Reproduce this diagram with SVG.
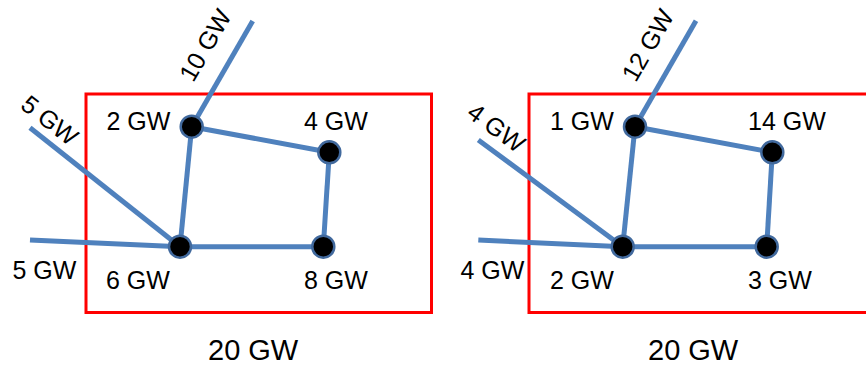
<svg xmlns="http://www.w3.org/2000/svg" width="866" height="365" viewBox="0 0 866 365">
<style>
.box{fill:none;stroke:#FF0000;stroke-width:3}
.ln{stroke:#4F81BD;stroke-width:5;fill:none}
.nd{fill:#000;stroke:#41699D;stroke-width:2.5}
text{font-family:"Liberation Sans",Arial,sans-serif;font-size:25px;fill:#000}
.big{font-size:29px}
</style>
<rect width="866" height="365" fill="#fff"/>
<rect class="box" x="86" y="94" width="345.5" height="218.5"/>
<rect class="box" x="529" y="94" width="345" height="218.5"/>
<g id="connectors">
<line class="ln" x1="191.7" y1="126.7" x2="252.7" y2="21"/>
<line class="ln" x1="30" y1="127.7" x2="180" y2="246.7"/>
<line class="ln" x1="30" y1="240" x2="180" y2="246.7"/>
<line class="ln" x1="191.7" y1="126.7" x2="329.3" y2="152.3"/>
<line class="ln" x1="191.7" y1="126.7" x2="180" y2="246.7"/>
<line class="ln" x1="329.3" y1="152.3" x2="323.3" y2="246.7"/>
<line class="ln" x1="180" y1="246.7" x2="323.3" y2="246.7"/>
<line class="ln" x1="635" y1="126.7" x2="696" y2="20.7"/>
<line class="ln" x1="478.3" y1="140" x2="622.7" y2="246.7"/>
<line class="ln" x1="478.3" y1="240" x2="622.7" y2="246.7"/>
<line class="ln" x1="635" y1="126.7" x2="772.3" y2="152.3"/>
<line class="ln" x1="635" y1="126.7" x2="622.7" y2="246.7"/>
<line class="ln" x1="772.3" y1="152.3" x2="766.7" y2="246.7"/>
<line class="ln" x1="622.7" y1="246.7" x2="766.7" y2="246.7"/>
</g>
<g id="n-left-2gw"><circle class="nd" cx="191.7" cy="126.7" r="11"/><text x="106.5" y="130">2 GW</text></g>
<g id="n-left-4gw"><circle class="nd" cx="329.3" cy="152.3" r="11"/><text x="304" y="130">4 GW</text></g>
<g id="n-left-6gw"><circle class="nd" cx="180" cy="246.7" r="11"/><text x="106" y="288.5">6 GW</text></g>
<g id="n-left-8gw"><circle class="nd" cx="323.3" cy="246.7" r="11"/><text x="304" y="288.5">8 GW</text></g>
<g id="n-right-1gw"><circle class="nd" cx="635" cy="126.7" r="11"/><text x="550" y="130">1 GW</text></g>
<g id="n-right-14gw"><circle class="nd" cx="772.3" cy="152.3" r="11"/><text x="748" y="130">14 GW</text></g>
<g id="n-right-2gw"><circle class="nd" cx="622.7" cy="246.7" r="11"/><text x="550" y="288.5">2 GW</text></g>
<g id="n-right-3gw"><circle class="nd" cx="766.7" cy="246.7" r="11"/><text x="748" y="288.5">3 GW</text></g>
<g id="labels">
<text x="212.8" y="49.5" text-anchor="middle" transform="rotate(-60 212.8 49.5)">10 GW</text>
<text x="44.5" y="127.1" text-anchor="middle" transform="rotate(38 44.5 127.1)">5 GW</text>
<text x="12.5" y="279.3">5 GW</text>
<text x="655.3" y="49.5" text-anchor="middle" transform="rotate(-60 655.3 49.5)">12 GW</text>
<text x="491.2" y="134.7" text-anchor="middle" transform="rotate(36.4 491.2 134.7)">4 GW</text>
<text x="460.5" y="279.3">4 GW</text>
<text class="big" x="208" y="360">20 GW</text>
<text class="big" x="648" y="360">20 GW</text>
</g>
</svg>
